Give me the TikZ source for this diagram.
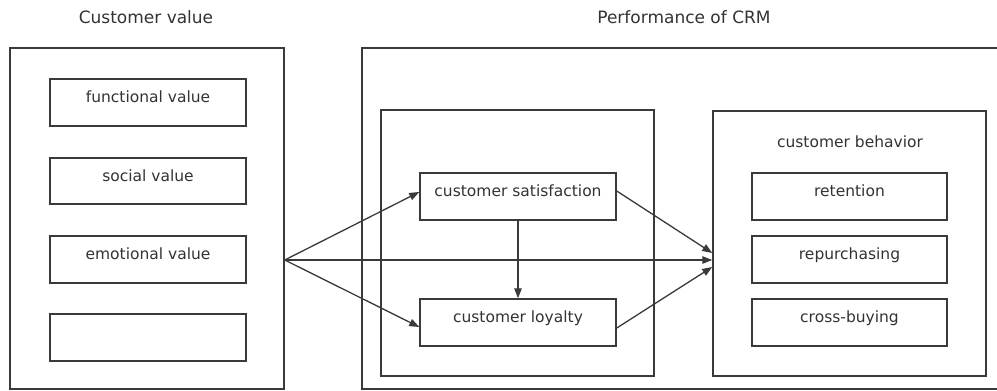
\documentclass[tikz,border=0pt]{standalone}
\usepackage{fontspec}
\setmainfont{DejaVu Sans}
\usetikzlibrary{arrows.meta}
\definecolor{ln}{HTML}{3A3A3A}
\definecolor{tx}{HTML}{333333}
\tikzset{
  box/.style={draw=ln, line width=1.5pt, rectangle, inner sep=0pt, text=tx, text height=10pt, text depth=10pt, font=\fontsize{15.5}{17}\selectfont},
  lbl/.style={text=tx, inner sep=0pt, font=\fontsize{15.5}{17}\selectfont},
  ttl/.style={text=tx, inner sep=0pt, font=\fontsize{17}{19}\selectfont},
  conn/.style={draw=ln, line width=1.3pt, -{Triangle[length=10pt,width=7.5pt]}},
}
\begin{document}
\begin{tikzpicture}[x=1pt,y=-1pt]
\useasboundingbox (0,0) rectangle (997,391);
\clip (0,0) rectangle (997,391);
\fill[white] (0,0) rectangle (997,391);
% titles
\node[ttl] (t1) at (146,17) {Customer value};
\node[ttl] (t2) at (684,17) {Performance of CRM};
% outer boxes
\node[box, minimum width=274pt, minimum height=341pt] (lo) at (147,218.5) {};
\node[box, minimum width=638pt, minimum height=341pt] (mo) at (681,218.5) {};
% left inner
\node[box, minimum width=196pt, minimum height=47pt] (func) at (148,102.5) {functional value};
\node[box, minimum width=196pt, minimum height=46pt] (soc) at (148,181) {social value};
\node[box, minimum width=196pt, minimum height=47pt] (emo) at (148,259.5) {emotional value};
\node[box, minimum width=196pt, minimum height=47pt] (emp) at (148,337.5) {};
% middle inner
\node[box, minimum width=273pt, minimum height=266pt] (in1) at (517.5,243) {};
\node[box, minimum width=196pt, minimum height=47pt] (sat) at (518,196.5) {customer satisfaction};
\node[box, minimum width=196pt, minimum height=47pt] (loy) at (518,322.5) {customer loyalty};
% behavior
\node[box, minimum width=273pt, minimum height=265pt] (beh) at (849.5,243.5) {};
\node[lbl] (behl) at (850,142) {customer behavior};
\node[box, minimum width=195pt, minimum height=47pt] (ret) at (849.5,196.5) {retention};
\node[box, minimum width=195pt, minimum height=47pt] (rep) at (849.5,259.5) {repurchasing};
\node[box, minimum width=195pt, minimum height=47pt] (crs) at (849.5,322.5) {cross-buying};
% connectors
\coordinate (src) at ([yshift=-41.5pt]lo.east);
\draw[conn] (src) -- ([yshift=4.5pt]sat.west);
\draw[conn] (src) -- ([yshift=-4.5pt]loy.west);
\draw[conn] (src) -- ([yshift=-16.5pt]beh.west);
\draw[conn] ([yshift=5.5pt]sat.east) -- ([yshift=-9.5pt]beh.west);
\draw[conn] ([yshift=-5.5pt]loy.east) -- ([yshift=-23.5pt]beh.west);
\draw[conn] (sat.south) -- (loy.north);
\end{tikzpicture}
\end{document}
